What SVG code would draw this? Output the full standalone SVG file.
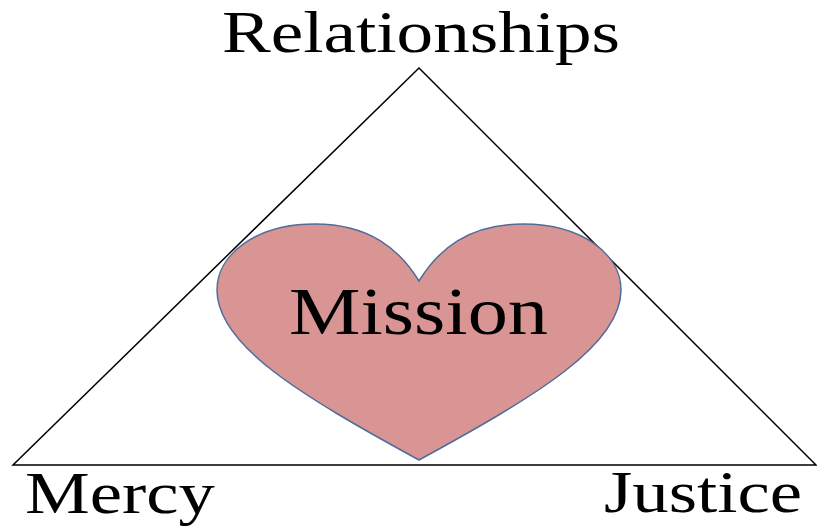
<svg xmlns="http://www.w3.org/2000/svg" width="817" height="529" viewBox="0 0 817 529">
<style>
.lbl{font-family:"Liberation Serif","Times New Roman",serif;fill:#000;}
.edge{fill:none;stroke:#000;stroke-width:1.5;}
</style>
<rect width="817" height="529" fill="#fff"/>
<g id="connectors">
<polygon class="edge" points="419,68 13,465 816,465"/>
</g>
<g id="mission">
<path d="M419,281 C400,250 370,224 315,224 C255,224 217,255 217,290 C217,345 300,395 419,460 C538,395 621,345 621,290 C621,255 583,224 523,224 C468,224 438,250 419,281 Z" fill="#D99594" stroke="#4F6D9A" stroke-width="1.5"/>
<text class="lbl" x="289" y="334" font-size="68" textLength="259" lengthAdjust="spacingAndGlyphs">Mission</text>
</g>
<g id="relationships">
<text class="lbl" x="222" y="52" font-size="60" textLength="398" lengthAdjust="spacingAndGlyphs">Relationships</text>
</g>
<g id="mercy">
<text class="lbl" x="25" y="513" font-size="60" textLength="190" lengthAdjust="spacingAndGlyphs">Mercy</text>
</g>
<g id="justice">
<text class="lbl" x="604" y="512" font-size="60" textLength="198" lengthAdjust="spacingAndGlyphs">Justice</text>
</g>
</svg>
